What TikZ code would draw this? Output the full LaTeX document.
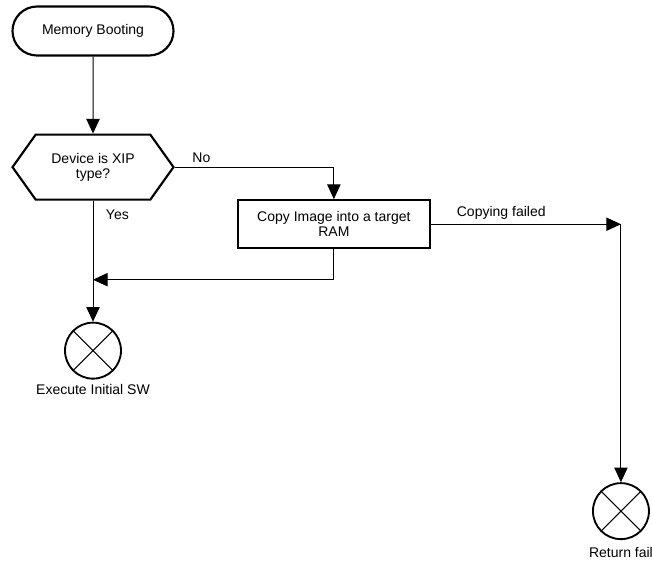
\documentclass[tikz,border=0pt]{standalone}
\usepackage{fontspec}
\setmainfont{Liberation Sans}
\usetikzlibrary{shapes.misc,shapes.symbols,arrows.meta,positioning}

\begin{document}
\begin{tikzpicture}[x=0.75pt, y=0.75pt, font=\fontsize{10.5pt}{11.5pt}\selectfont,
        terminal/.style={rounded rectangle, draw, line width=1.6pt, minimum width=120.75pt, minimum height=36.75pt, inner sep=0pt},
        decision/.style={signal, signal to=west and east, signal pointer angle=109, draw, line width=1.6pt, minimum width=120.75pt, minimum height=48.75pt, inner sep=2pt, align=center},
        process/.style={rectangle, draw, line width=1.6pt, minimum width=144pt, minimum height=36pt, inner sep=2pt, align=center},
        endpoint/.style={circle, draw, line width=1.4pt, minimum size=42pt, inner sep=0pt,
            path picture={\draw[line width=0.75pt] (path picture bounding box.south west) -- (path picture bounding box.north east)
                (path picture bounding box.north west) -- (path picture bounding box.south east);}},
        arrow/.style={-{Triangle[length=11pt, width=10pt]}, line width=0.75pt}]

        \useasboundingbox (0,0) rectangle (652,-561);

        \node[terminal] (boot) at (93,-31) {Memory Booting};
        \node[decision, below=57.75pt of boot] (xip) {Device is XIP\\type?};
        \node[process, below right=24pt and 46.5pt of xip.east] (copy) {Copy Image into a target\\RAM};
        \node[endpoint, below=90.75pt of xip.south, label={[label distance=0pt]below:Execute Initial SW}] (exec) {};

        \coordinate[right=142.5pt of copy.east] (split);
        \coordinate[below=59.25pt of xip.south] (merge);
        \node[endpoint, below=193.5pt of split, label={[label distance=2pt]below:Return fail}] (fail) {};

        \draw[arrow] (boot) -- (xip);
        \draw[arrow] (xip.east) -| node[above right, pos=0.04] {No} (copy.north);
        \draw[arrow] (xip.south) -- node[right=6pt, pos=0.12] {Yes} (exec);
        \draw[arrow] (copy.south) |- (merge);
        \draw[arrow] (copy.east) -- node[above, pos=0.37] {Copying failed} (split);
        \draw[arrow] (split) -- (fail);
    \end{tikzpicture}
\end{document}
